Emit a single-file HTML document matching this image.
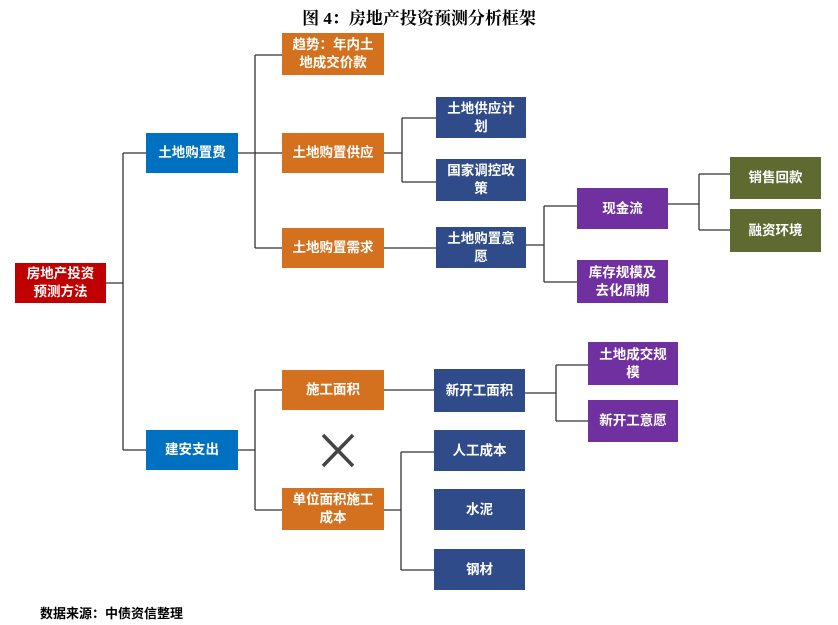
<!DOCTYPE html>
<html><head><meta charset="utf-8"><style>
body{margin:0;width:838px;height:625px;background:#fff;position:relative;overflow:hidden;font-family:"Liberation Sans","Noto Sans CJK SC",sans-serif}
.b{position:absolute;color:#fff;font-weight:bold;font-size:13.5px;line-height:18px;display:flex;align-items:center;justify-content:center;text-align:center;box-sizing:border-box;padding:0 6px}
.r{background:#c00000}.bl{background:#0070c0}.o{background:#d4711e}.n{background:#2f4b8a}.p{background:#7030a0}.g{background:#5f6a31}
svg{position:absolute;left:0;top:0}
</style></head><body>
<div style="position:absolute;left:0;width:838px;top:4px;text-align:center;font-weight:bold;font-size:17px;color:#000;font-family:'Liberation Serif','Noto Serif CJK SC',serif">图 4：房地产投资预测分析框架</div>
<svg width="838" height="625" stroke="#333" stroke-width="1.3" fill="none">
<path d="M106 283H123M123 153V450M123 153H146M123 450H146"/>
<path d="M238 153H282M255 55V248M255 55H282M255 248H282"/>
<path d="M384 153H402M402 118V182M402 118H436M402 182H436"/>
<path d="M384 248H436"/>
<path d="M526 245H544M544 206V282M544 206H577M544 282H577"/>
<path d="M668 204H699M699 174V230M699 174H730M699 230H730"/>
<path d="M238 450H255M255 390V510M255 390H282M255 510H282"/>
<path d="M384 390H434"/>
<path d="M525 393H556M556 365V421M556 365H588M556 421H588"/>
<path d="M384 510H401M401 452V570M401 452H434M401 570H434"/>
<path d="M323 435L353 466M353 435L323 466" stroke="#444" stroke-width="3.5"/>
</svg>
<div class="b r" style="left:15px;top:263px;width:91px;height:40px">房地产投资<br>预测方法</div>
<div class="b bl" style="left:146px;top:133px;width:92px;height:40px">土地购置费</div>
<div class="b bl" style="left:146px;top:430px;width:92px;height:40px">建安支出</div>
<div class="b o" style="left:282px;top:33px;width:102px;height:42px">趋势：年内土<br>地成交价款</div>
<div class="b o" style="left:282px;top:133px;width:102px;height:40px">土地购置供应</div>
<div class="b o" style="left:282px;top:228px;width:102px;height:40px">土地购置需求</div>
<div class="b o" style="left:282px;top:370px;width:102px;height:40px">施工面积</div>
<div class="b o" style="left:282px;top:488px;width:102px;height:42px">单位面积施工<br>成本</div>
<div class="b n" style="left:436px;top:97px;width:90px;height:41px">土地供应计<br>划</div>
<div class="b n" style="left:436px;top:159px;width:90px;height:42px">国家调控政<br>策</div>
<div class="b n" style="left:436px;top:227px;width:90px;height:41px">土地购置意<br>愿</div>
<div class="b n" style="left:434px;top:369px;width:91px;height:43px">新开工面积</div>
<div class="b n" style="left:434px;top:430px;width:91px;height:41px">人工成本</div>
<div class="b n" style="left:434px;top:489px;width:91px;height:41px">水泥</div>
<div class="b n" style="left:434px;top:549px;width:91px;height:41px">钢材</div>
<div class="b p" style="left:577px;top:188px;width:91px;height:41px">现金流</div>
<div class="b p" style="left:577px;top:260px;width:91px;height:43px">库存规模及<br>去化周期</div>
<div class="b g" style="left:730px;top:157px;width:91px;height:42px">销售回款</div>
<div class="b g" style="left:730px;top:209px;width:91px;height:43px">融资环境</div>
<div class="b p" style="left:588px;top:342px;width:90px;height:43px">土地成交规<br>模</div>
<div class="b p" style="left:588px;top:400px;width:90px;height:42px">新开工意愿</div>
<div style="position:absolute;left:40px;top:603px;font-size:13px;font-weight:bold;color:#000">数据来源：中债资信整理</div>
</body></html>
